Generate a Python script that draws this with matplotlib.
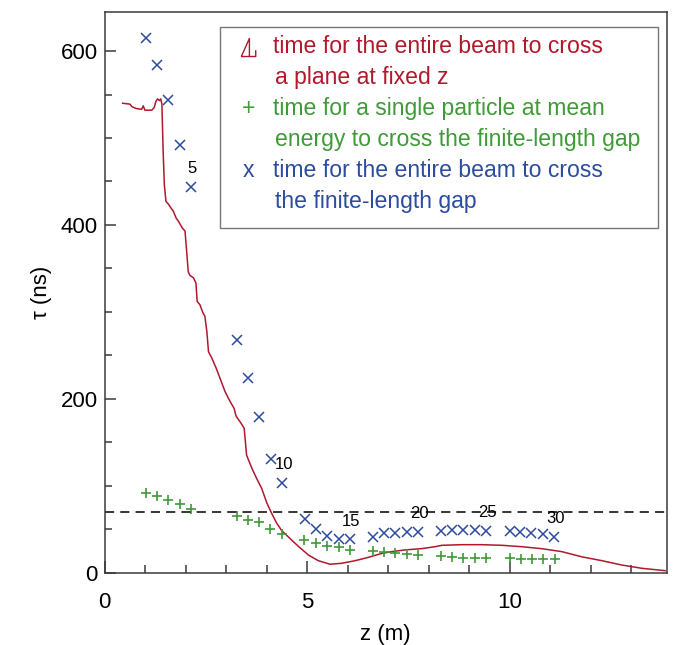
import numpy as np
import matplotlib
matplotlib.use("Agg")
import matplotlib.pyplot as plt
from matplotlib.path import Path

plt.rcParams['font.family'] = ['Liberation Sans', 'DejaVu Sans']

# red curve: time for the entire beam to cross a plane at fixed z
plane_z = [0.44, 0.62, 0.67, 0.77, 0.91, 0.95, 0.99, 1.16, 1.22, 1.26, 1.30, 1.35,
           1.38, 1.41, 1.44, 1.47, 1.51, 1.57, 1.64, 1.69, 1.76, 1.82, 1.87, 1.92,
           1.98, 2.02, 2.06, 2.10, 2.19, 2.25, 2.28, 2.35, 2.42, 2.47, 2.52, 2.56,
           2.64, 2.75, 2.84, 2.97, 3.09, 3.19, 3.24, 3.36, 3.44, 3.50, 3.63, 3.75,
           3.87, 4.00, 4.12, 4.24, 4.37, 4.53, 4.78, 5.03, 5.27, 5.56, 5.85, 6.18,
           6.51, 6.84, 7.08, 7.41, 7.83, 8.15, 8.32, 8.81, 9.31, 9.80, 10.29, 10.79,
           11.28, 11.78, 12.27, 12.76, 13.26, 13.83]
plane_tau = [540, 539, 536, 534, 533, 537, 532, 532, 535, 542, 545, 543,
             545, 539, 485, 446, 427, 424, 419, 416, 408, 404, 400, 396,
             393, 370, 346, 342, 339, 333, 312, 308, 299, 295, 277, 254,
             247, 235, 224, 208, 197, 189, 180, 172, 166, 135, 120, 108,
             97, 80, 68, 57, 48, 41, 30, 20, 13.6, 9.5, 10.6, 13.6,
             17.5, 22, 24, 26, 27.5, 29.7, 31.3, 32, 32, 31.3, 29.7, 27.4,
             24, 18, 13.6, 8.6, 4.8, 2.1]

# green +: single particle at mean energy across the gap
particle_z = [1.01, 1.28, 1.57, 1.85, 2.13, 3.26, 3.54, 3.81, 4.09, 4.37,
              4.92, 5.21, 5.49, 5.77, 6.05, 6.61, 6.89, 7.17, 7.45, 7.73,
              8.30, 8.58, 8.85, 9.14, 9.41, 9.99, 10.27, 10.54, 10.82, 11.11]
particle_tau = [92, 88.5, 83.5, 79, 73, 65, 60.5, 58, 50, 44.5,
                37, 34, 31, 29, 26, 24.5, 23.5, 22, 21.5, 20.5,
                19, 18, 17, 16.5, 16.5, 16.5, 15.5, 15.5, 15, 15]

# blue x: entire beam across the gap
gap_z = [1.01, 1.29, 1.57, 1.86, 2.13, 3.26, 3.54, 3.81, 4.10, 4.38,
         4.94, 5.21, 5.49, 5.78, 6.05, 6.63, 6.90, 7.17, 7.45, 7.73,
         8.30, 8.57, 8.84, 9.13, 9.40, 9.99, 10.26, 10.53, 10.81, 11.08]
gap_tau = [615, 584, 544, 492, 444, 267, 224, 179, 131, 103,
           62, 50, 42, 38, 38, 41, 45, 46, 47, 47,
           48, 49, 49, 49, 48, 48, 47, 46, 44, 41]

gap_labels = [5, 10, 15, 20, 25, 30]
threshold = 70

red = '#b0182c'
green = '#3f9a38'
blue = '#2d4c9f'
axcol = '#3a3a3a'

fig = plt.figure(figsize=(6.73, 6.45), dpi=100)
ax = fig.add_axes([0.1557, 0.1124, 0.835, 0.869])

ax.plot(plane_z, plane_tau, color=red, lw=1.1)
ax.plot(particle_z, particle_tau, ls='none', marker='+', ms=7.5, mew=1.2, color=green)
ax.plot(gap_z, gap_tau, ls='none', marker='x', ms=7, mew=1.1, color=blue)
ax.axhline(threshold, color='black', lw=1.1, ls=(0, (6, 4)))

for n in gap_labels:
    ax.annotate(str(n), (gap_z[n - 1], gap_tau[n - 1]), xytext=(1, 13),
                textcoords='offset points', ha='center', va='center', fontsize=12)

ax.set_xlim(0, 13.87)
ax.set_ylim(0, 645)
ax.set_xticks([0, 5, 10])
ax.set_xticks(np.arange(0, 14, 1), minor=True)
ax.set_yticks([0, 200, 400, 600])
ax.set_yticks(np.arange(0, 646, 50), minor=True)
ax.tick_params(which='both', direction='in', colors=axcol, labelcolor='black',
               labelsize=16, width=1.1)
ax.tick_params(axis='x', which='major', length=9, pad=14)
ax.tick_params(axis='x', which='minor', length=6)
ax.tick_params(axis='y', which='major', length=8, pad=5)
ax.tick_params(axis='y', which='minor', length=5)
for s in ax.spines.values():
    s.set_color(axcol)
    s.set_linewidth(1.1)

ax.set_xlabel('z (m)', fontsize=16, labelpad=8)
ax.set_ylabel('τ (ns)', fontsize=16, labelpad=6)

# legend box drawn by hand, two-line entries with the symbol on the first line
ax.add_patch(plt.Rectangle((0.205, 0.615), 0.78, 0.358, transform=ax.transAxes,
                           fill=False, edgecolor='#777777', lw=1.0, zorder=5))
entries = [
    ('plane', red, ['time for the entire beam to cross', 'a plane at fixed z']),
    ('+', green, ['time for a single particle at mean',
                  'energy to cross the finite-length gap']),
    ('x', blue, ['time for the entire beam to cross', 'the finite-length gap']),
]
line_h = 31 / 560.5
y = (572.5 - 46.7) / 560.5
glyph = Path([(-0.4, -0.5), (0.05, 0.5), (0.05, -0.5), (-0.4, -0.5), (0.4, -0.5), (0.4, -0.15)],
             [Path.MOVETO, Path.LINETO, Path.LINETO, Path.MOVETO, Path.LINETO, Path.LINETO])
for sym, col, lines in entries:
    if sym == 'plane':
        ax.plot([0.255], [y], transform=ax.transAxes, marker=glyph, ms=13, mew=1.0,
                color=col, fillstyle='none', ls='none', clip_on=False, zorder=6)
    else:
        ax.text(0.256, y, sym, transform=ax.transAxes, color=col, fontsize=16.6,
                ha='center', va='center', zorder=6)
    ax.text(0.2995, y, lines[0], transform=ax.transAxes, color=col, fontsize=16.6,
            ha='left', va='center', zorder=6)
    ax.text(0.3035, y - line_h, lines[1], transform=ax.transAxes, color=col,
            fontsize=16.6, ha='left', va='center', zorder=6)
    y -= 2 * line_h

fig.savefig('out.png', dpi=100)
